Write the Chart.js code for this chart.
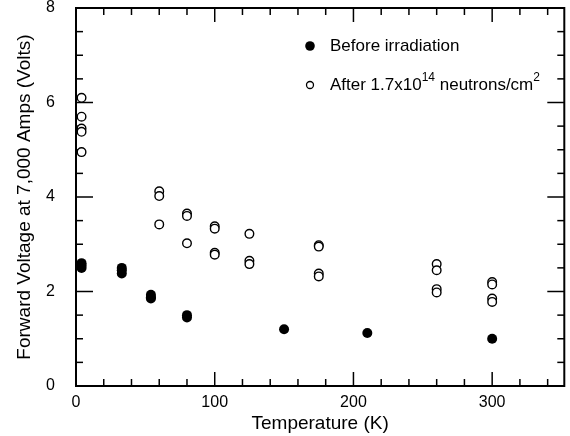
<!DOCTYPE html>
<html>
<head>
<meta charset="utf-8">
<script src="https://cdn.jsdelivr.net/npm/chart.js@4"></script>
<style>
  html, body { margin: 0; padding: 0; background: #fff; }
  #wrap { width: 570px; height: 436px; }
</style>
</head>
<body>
<div id="wrap"><canvas id="grafico"></canvas></div>
<script>
// Antes de la irradiación (puntos rellenos)
const tempAntes = [4, 4, 4, 33, 33, 33, 54, 54, 54, 80, 80, 150, 210, 300];
const voltAntes = [2.6, 2.55, 2.5, 2.5, 2.45, 2.38, 1.93, 1.88, 1.85, 1.5, 1.45, 1.2, 1.12, 1.0];

// Después de 1.7x10^14 neutrones/cm^2 (círculos vacíos)
const tempDespues = [4, 4, 4, 4, 4, 60, 60, 60, 80, 80, 80, 100, 100, 100, 100,
  125, 125, 125, 175, 175, 175, 175, 260, 260, 260, 260, 300, 300, 300, 300];
const voltDespues = [6.1, 5.7, 5.45, 5.38, 4.95, 4.12, 4.02, 3.42, 3.65, 3.6, 3.02, 3.38, 3.33, 2.82, 2.78,
  3.22, 2.65, 2.58, 2.98, 2.95, 2.38, 2.32, 2.58, 2.45, 2.05, 1.98, 2.2, 2.15, 1.85, 1.78];

const ticksX = [0, 100, 200, 300];
const ticksY = [0, 2, 4, 6, 8];

const etiquetaAntes = 'Before irradiation';
const etiquetaDespues = ['After 1.7x10', '14', ' neutrons/cm', '2'];

const fuente = 'Arial, "Liberation Sans", Helvetica, sans-serif';

function linea(ctx, x1, y1, x2, y2) {
  ctx.beginPath();
  ctx.moveTo(x1, y1);
  ctx.lineTo(x2, y2);
  ctx.stroke();
}

// Marco y marcas hacia dentro en los cuatro lados
const marco = {
  id: 'marco',
  beforeDatasetsDraw(chart) {
    const { ctx, chartArea: a, scales: { x, y } } = chart;
    ctx.save();
    ctx.strokeStyle = '#000';
    ctx.lineWidth = 1.5;
    for (let v = 20; v < x.max; v += 20) {
      const px = x.getPixelForValue(v);
      const largo = v % 100 === 0 ? 14 : 7;
      linea(ctx, px, a.bottom, px, a.bottom - largo);
      linea(ctx, px, a.top, px, a.top + largo);
    }
    for (let v = 0.5; v < y.max; v += 0.5) {
      const py = y.getPixelForValue(v);
      const largo = v % 2 === 0 ? 17 : 7;
      linea(ctx, a.left, py, a.left + largo, py);
      linea(ctx, a.right, py, a.right - largo, py);
    }
    ctx.lineWidth = 2;
    ctx.strokeRect(a.left, a.top, a.right - a.left, a.bottom - a.top);
    ctx.restore();
  }
};

// Leyenda dentro del gráfico, con superíndices
const leyenda = {
  id: 'leyenda',
  afterDraw(chart) {
    const { ctx, chartArea: a } = chart;
    const mx = a.left + 234;
    const y1 = a.top + 38;
    const y2 = a.top + 77;
    ctx.save();
    ctx.fillStyle = '#000';
    ctx.strokeStyle = '#000';
    ctx.beginPath();
    ctx.arc(mx, y1, 4.8, 0, Math.PI * 2);
    ctx.fill();
    ctx.lineWidth = 1.3;
    ctx.beginPath();
    ctx.arc(mx, y2, 3.5, 0, Math.PI * 2);
    ctx.stroke();

    ctx.textBaseline = 'middle';
    ctx.font = '17px ' + fuente;
    let tx = mx + 20;
    ctx.fillText(etiquetaAntes, tx, y1);

    etiquetaDespues.forEach((t, i) => {
      const sup = i % 2 === 1;
      ctx.font = (sup ? '12px ' : '17px ') + fuente;
      ctx.fillText(t, tx, sup ? y2 - 7 : y2);
      tx += ctx.measureText(t).width;
    });
    ctx.restore();
  }
};

const ctx = document.getElementById('grafico');
new Chart(ctx, {
  type: 'scatter',
  data: {
    datasets: [{
      label: etiquetaAntes,
      data: tempAntes.map((t, i) => ({ x: t, y: voltAntes[i] })),
      backgroundColor: '#000',
      borderColor: '#000',
      pointRadius: 5,
      borderWidth: 0
    }, {
      label: etiquetaDespues.join(''),
      data: tempDespues.map((t, i) => ({ x: t, y: voltDespues[i] })),
      backgroundColor: '#fff',
      borderColor: '#000',
      pointRadius: 4.3,
      borderWidth: 1.4
    }]
  },
  options: {
    responsive: true,
    maintainAspectRatio: false,
    animation: false,
    layout: { padding: { top: 8, right: 5, left: 0, bottom: 0 } },
    plugins: {
      legend: { display: false },
      tooltip: { enabled: false }
    },
    scales: {
      x: {
        type: 'linear',
        min: 0,
        max: 352,
        grid: { display: false, drawTicks: false },
        border: { display: false },
        afterFit(scale) {
          scale.height = 50;
          scale.paddingLeft = 0;
          scale.paddingRight = 0;
        },
        afterBuildTicks(scale) { scale.ticks = ticksX.map(v => ({ value: v })); },
        ticks: {
          color: '#000',
          padding: 7,
          maxRotation: 0,
          font: { family: fuente, size: 16 }
        },
        title: {
          display: true,
          text: 'Temperature (K)',
          color: '#000',
          padding: { top: 2, bottom: 1 },
          font: { family: fuente, size: 19 }
        }
      },
      y: {
        min: 0,
        max: 8,
        grid: { display: false, drawTicks: false },
        border: { display: false },
        afterFit(scale) {
          scale.width = 76;
          scale.paddingTop = 0;
          scale.paddingBottom = 0;
        },
        afterBuildTicks(scale) { scale.ticks = ticksY.map(v => ({ value: v })); },
        ticks: {
          color: '#000',
          padding: 21,
          font: { family: fuente, size: 16 }
        },
        title: {
          display: true,
          text: 'Forward Voltage at 7,000 Amps (Volts)',
          color: '#000',
          padding: { top: 13, bottom: 0 },
          font: { family: fuente, size: 19 }
        }
      }
    }
  },
  plugins: [marco, leyenda]
});
</script>
</body>
</html>
